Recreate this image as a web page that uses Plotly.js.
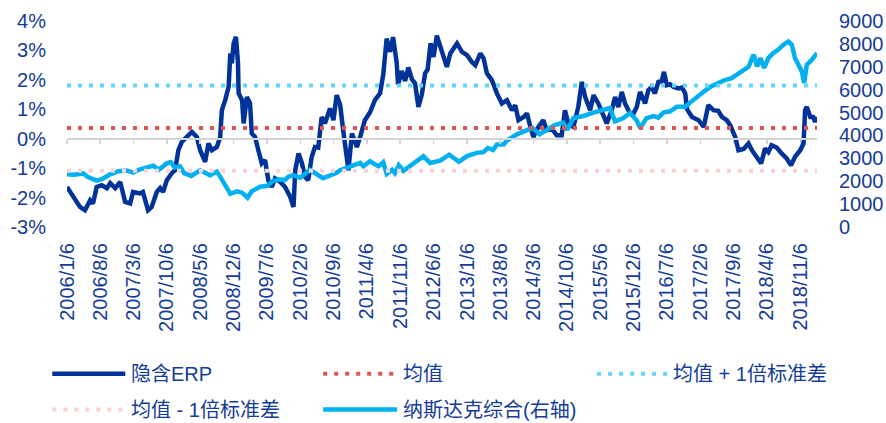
<!DOCTYPE html>
<html>
<head>
<meta charset="utf-8">
<script src="https://cdn.plot.ly/plotly-3.0.1.min.js"></script>
<style>html,body{margin:0;padding:0;background:#fff}#chart{width:886px;height:423px}</style>
</head>
<body>
<div id="chart"></div>
<script>
// ---------------- data ----------------
const xTickLabels = ["2006/1/6","2006/8/6","2007/3/6","2007/10/6","2008/5/6","2008/12/6","2009/7/6","2010/2/6","2010/9/6","2011/4/6","2011/11/6","2012/6/6","2013/1/6","2013/8/6","2014/3/6","2014/10/6","2015/5/6","2015/12/6","2016/7/6","2017/2/6","2017/9/6","2018/4/6","2018/11/6"];
const xStart = "2006-01-06";
const xEnd = "2019-02-21";

const erpDates = ["2006-01-06","2006-02-16","2006-03-30","2006-05-01","2006-06-03","2006-06-21","2006-07-15","2006-08-16","2006-09-18","2006-10-09","2006-11-10","2006-12-12","2007-01-13","2007-02-14","2007-03-04","2007-04-18","2007-05-06","2007-06-08","2007-07-01","2007-08-03","2007-08-24","2007-09-12","2007-10-06","2007-11-07","2007-11-28","2007-12-19","2008-01-10","2008-02-11","2008-03-14","2008-04-15","2008-05-06","2008-06-07","2008-06-28","2008-07-20","2008-08-21","2008-09-11","2008-09-22","2008-10-13","2008-11-04","2008-11-15","2008-11-25","2008-12-06","2008-12-21","2009-01-03","2009-01-07","2009-01-29","2009-02-08","2009-03-01","2009-03-21","2009-04-01","2009-04-22","2009-05-13","2009-06-04","2009-06-25","2009-07-16","2009-08-07","2009-08-28","2009-09-30","2009-10-31","2009-12-03","2009-12-24","2010-01-04","2010-01-25","2010-02-16","2010-03-07","2010-03-28","2010-04-19","2010-05-10","2010-05-31","2010-06-22","2010-07-13","2010-08-14","2010-09-05","2010-09-26","2010-10-18","2010-11-09","2010-11-30","2010-12-10","2011-01-01","2011-02-02","2011-02-23","2011-03-25","2011-04-27","2011-05-28","2011-06-30","2011-07-21","2011-08-11","2011-09-02","2011-09-21","2011-10-14","2011-10-23","2011-11-16","2011-12-07","2011-12-28","2012-01-19","2012-02-09","2012-03-01","2012-03-23","2012-04-13","2012-04-29","2012-05-18","2012-06-06","2012-06-27","2012-07-18","2012-08-09","2012-08-30","2012-09-21","2012-11-03","2012-12-05","2013-01-06","2013-02-07","2013-02-28","2013-04-01","2013-04-22","2013-05-13","2013-06-14","2013-07-16","2013-08-17","2013-09-18","2013-10-20","2013-11-10","2013-12-01","2014-01-03","2014-01-24","2014-02-15","2014-03-06","2014-04-07","2014-05-09","2014-05-30","2014-07-01","2014-08-02","2014-09-03","2014-09-24","2014-10-15","2014-11-17","2014-12-18","2015-01-10","2015-01-31","2015-03-04","2015-03-25","2015-04-25","2015-05-28","2015-06-18","2015-07-20","2015-08-10","2015-08-31","2015-09-22","2015-10-13","2015-11-14","2015-12-06","2015-12-27","2016-01-17","2016-02-18","2016-03-10","2016-03-31","2016-04-21","2016-05-13","2016-06-03","2016-06-18","2016-07-06","2016-07-27","2016-08-18","2016-09-19","2016-10-11","2016-11-01","2016-11-12","2016-12-14","2017-01-25","2017-02-27","2017-03-28","2017-04-30","2017-05-31","2017-06-23","2017-07-24","2017-08-15","2017-09-16","2017-10-07","2017-11-09","2017-12-10","2018-01-01","2018-02-03","2018-03-01","2018-03-26","2018-04-16","2018-05-07","2018-06-08","2018-07-10","2018-08-11","2018-09-08","2018-10-03","2018-11-06","2018-11-27","2018-12-07","2018-12-18","2019-01-09","2019-01-27","2019-02-09","2019-02-21"];
const erpValues = [-1.64,-1.98,-2.32,-2.43,-2.09,-2.2,-1.64,-1.58,-1.68,-1.51,-1.68,-1.47,-2.15,-2.2,-1.81,-1.86,-1.81,-2.43,-2.32,-1.81,-1.68,-1.81,-1.41,-1.17,-1.07,-0.39,-0.11,0.06,0.23,0.06,-0.39,-0.79,-0.16,-0.39,-0.28,0.06,0.97,1.31,1.76,2.9,2.56,3.24,3.46,2.57,1.54,1.31,0.52,1.42,1.2,0.18,0.06,-0.39,-0.84,-0.73,-1.41,-1.64,-1.35,-1.47,-1.64,-1.98,-2.32,-1.07,-0.5,-0.84,-1.3,-1.41,-0.62,-0.28,-0.3,0.74,0.52,1.03,0.63,1.48,1.15,0.18,-0.62,-1.07,0.18,-0.28,0.06,0.63,0.9,1.31,1.54,2.2,3.4,2.95,3.45,2.6,1.85,2.3,1.96,2.42,2.03,1.88,1.08,1.5,2.22,2.35,3.24,2.78,3.5,3.12,2.78,2.44,2.9,3.24,2.95,2.84,2.6,2.5,2.9,2.73,2.22,1.99,1.54,1.2,1.31,0.97,1.14,0.63,0.74,0.86,0.4,0.06,0.4,0.63,0.29,0.35,0.12,0.12,0.97,0.52,0.4,1.08,1.93,1.42,0.97,1.48,1.2,0.74,0.52,0.97,1.42,1.08,1.59,1.2,0.86,0.86,1.08,1.59,1.2,1.65,1.76,1.54,1.93,1.95,2.27,1.82,1.85,1.76,1.71,1.74,1.54,1.0,0.74,0.63,0.4,1.14,0.97,0.95,0.74,0.63,0.46,0.06,-0.39,-0.35,-0.16,-0.39,-0.62,-0.84,-0.33,-0.45,-0.22,-0.3,-0.5,-0.67,-0.9,-0.62,-0.39,-0.16,0.97,1.08,0.74,0.74,0.57,0.74];

const nasdaqDates = ["2006-01-06","2006-02-20","2006-04-20","2006-05-20","2006-07-15","2006-08-20","2006-10-09","2006-12-01","2007-01-24","2007-03-05","2007-04-18","2007-06-01","2007-07-12","2007-08-15","2007-10-06","2007-10-31","2007-11-25","2007-12-29","2008-01-25","2008-03-10","2008-05-06","2008-07-08","2008-08-21","2008-09-11","2008-10-02","2008-10-20","2008-11-15","2008-12-27","2009-01-29","2009-03-05","2009-04-01","2009-05-24","2009-07-10","2009-08-10","2009-09-18","2009-10-30","2009-11-21","2009-12-21","2010-02-05","2010-04-08","2010-05-18","2010-06-30","2010-08-14","2010-09-20","2010-10-18","2010-12-21","2011-02-23","2011-03-16","2011-04-27","2011-06-20","2011-07-20","2011-08-12","2011-09-15","2011-10-03","2011-10-28","2011-11-27","2012-01-30","2012-04-02","2012-05-15","2012-06-10","2012-07-18","2012-09-15","2012-11-15","2013-01-06","2013-03-09","2013-04-20","2013-05-20","2013-06-21","2013-07-16","2013-08-28","2013-09-18","2013-11-21","2014-01-24","2014-02-27","2014-04-15","2014-05-29","2014-07-21","2014-09-12","2014-10-10","2014-11-17","2015-01-20","2015-03-25","2015-05-28","2015-07-09","2015-08-10","2015-10-02","2015-11-14","2015-12-27","2016-01-17","2016-02-28","2016-04-12","2016-05-12","2016-06-14","2016-07-27","2016-09-08","2016-11-01","2016-12-14","2017-01-25","2017-03-06","2017-04-18","2017-05-31","2017-07-12","2017-08-25","2017-10-07","2017-11-09","2017-12-10","2018-01-12","2018-02-03","2018-02-24","2018-03-21","2018-04-16","2018-05-18","2018-06-19","2018-07-21","2018-08-22","2018-09-13","2018-10-03","2018-10-24","2018-11-16","2018-12-01","2018-12-18","2019-01-20","2019-02-21"];
const nasdaqValues = [2300,2280,2340,2180,2030,2100,2300,2440,2470,2380,2520,2580,2680,2500,2780,2830,2600,2650,2350,2230,2480,2260,2420,2200,1950,1700,1450,1560,1500,1280,1560,1760,1800,1990,2080,2050,2200,2270,2150,2500,2300,2130,2250,2350,2480,2660,2800,2650,2870,2650,2830,2320,2500,2350,2700,2450,2800,3090,2800,2850,2900,3160,2850,3100,3240,3270,3450,3360,3600,3600,3780,4050,4200,4330,4050,4250,4450,4560,4250,4760,4850,5000,5100,5200,4620,4760,4980,4650,4330,4760,4850,4780,5000,5056,5250,5250,5500,5750,5950,6150,6300,6420,6500,6720,6880,7000,7530,7020,7380,6950,7380,7600,7750,7960,8100,7960,7380,7090,6800,6290,7090,7310,7600];

const erpMean = 0.36;
const erpStd = 1.45;
const yLeftTicks = [-3,-2,-1,0,1,2,3,4];
const yRightTicks = [0,1000,2000,3000,4000,5000,6000,7000,8000,9000];
const seriesNames = ["隐含ERP","均值","均值 + 1倍标准差","均值 - 1倍标准差","纳斯达克综合(右轴)"];

// ---------------- styles / layout ----------------
const textColor = "#143C98";
const fontFam = "Liberation Sans, Arial, Noto Sans CJK SC, sans-serif";
const cDark = "#003399", cLight = "#00B0F0", cMean = "#E35555", cUp = "#62D4FF", cDown = "#F9D3D3";
const dotDash = "4px,7px";

const tickVals = xTickLabels.map(s => { const p = s.split("/"); return p[0] + "-" + p[1].padStart(2,"0") + "-" + p[2].padStart(2,"0"); });
const flat = v => [v, v];

const traces = [
  {x: erpDates, y: erpValues, name: seriesNames[0], type: "scatter", mode: "lines", xaxis: "x", yaxis: "y", line: {color: cDark, width: 4.5}},
  {x: [xStart, xEnd], y: flat(erpMean), name: seriesNames[1], type: "scatter", mode: "lines", xaxis: "x2", yaxis: "y", line: {color: cMean, width: 4, dash: dotDash}},
  {x: [xStart, xEnd], y: flat(erpMean + erpStd), name: seriesNames[2], type: "scatter", mode: "lines", xaxis: "x2", yaxis: "y", line: {color: cUp, width: 4, dash: dotDash}},
  {x: [xStart, xEnd], y: flat(erpMean - erpStd), name: seriesNames[3], type: "scatter", mode: "lines", xaxis: "x2", yaxis: "y", line: {color: cDown, width: 4, dash: dotDash}},
  {x: nasdaqDates, y: nasdaqValues, name: seriesNames[4], type: "scatter", mode: "lines", xaxis: "x", yaxis: "y2", line: {color: cLight, width: 4.5}}
];

// plot-area pixel frame
const PL = 66.7, PR = 817, PT = 20.5, PB = 227;
const fx = px => (px - PL) / (PR - PL);
const fy = py => (PB - py) / (PB - PT);

// custom legend (long samples as in the original)
const legendPos = [
  {x0: 52, x1: 125, tx: 129, y: 374},
  {x0: 323, x1: 396, tx: 401, y: 374},
  {x0: 597, x1: 668, tx: 671, y: 374},
  {x0: 52, x1: 124, tx: 129, y: 410},
  {x0: 323, x1: 397, tx: 401, y: 410}
];
const shapes = [], annotations = [];
traces.forEach((t, i) => {
  const p = legendPos[i];
  shapes.push({type: "line", xref: "paper", yref: "paper", x0: fx(p.x0), x1: fx(p.x1), y0: fy(p.y), y1: fy(p.y),
    line: {color: t.line.color, width: t.line.width, dash: t.line.dash || "solid"}});
  annotations.push({xref: "paper", yref: "paper", x: fx(p.tx), y: fy(p.y), xanchor: "left", yanchor: "middle",
    text: t.name, showarrow: false, font: {size: 20, color: textColor, family: fontFam}});
});

const layout = {
  width: 886, height: 423,
  margin: {l: PL, r: 886 - PR, t: PT, b: 423 - PB, pad: 0},
  paper_bgcolor: "#fff", plot_bgcolor: "#fff",
  font: {family: fontFam, color: textColor, size: 20},
  showlegend: false,
  xaxis: {type: "date", range: [xStart, xEnd], tickmode: "array", tickvals: tickVals, ticktext: xTickLabels,
    tickangle: -90, tickfont: {size: 20, color: textColor}, showgrid: false, zeroline: false, showline: false,
    ticks: "outside", ticklen: 7, tickcolor: "rgba(0,0,0,0)", fixedrange: true},
  xaxis2: {type: "date", range: [xStart, xEnd], overlaying: "x", anchor: "free", position: 3 / 7,
    tickmode: "array", tickvals: tickVals, showticklabels: false, showgrid: false, zeroline: false,
    showline: true, linecolor: "#D4D4D4", linewidth: 2, ticks: "outside", ticklen: 4, tickwidth: 1.5, tickcolor: "#D4D4D4"},
  yaxis: {range: [-3, 4], tickmode: "array", tickvals: yLeftTicks, ticktext: yLeftTicks.map(v => v + "%"),
    showgrid: false, zeroline: true, zerolinecolor: "#D4D4D4", zerolinewidth: 2, showline: false,
    ticks: "outside", ticklen: 16, tickcolor: "rgba(0,0,0,0)", tickfont: {size: 20, color: textColor}},
  yaxis2: {range: [0, 9000], overlaying: "y", side: "right", anchor: "x", tickmode: "array", tickvals: yRightTicks,
    ticktext: yRightTicks.map(String), showgrid: false, zeroline: false, showline: false,
    ticks: "outside", ticklen: 17, tickcolor: "rgba(0,0,0,0)", tickfont: {size: 20, color: textColor}},
  shapes: shapes,
  annotations: annotations
};

Plotly.newPlot("chart", traces, layout, {staticPlot: true, displayModeBar: false});
</script>
</body>
</html>
